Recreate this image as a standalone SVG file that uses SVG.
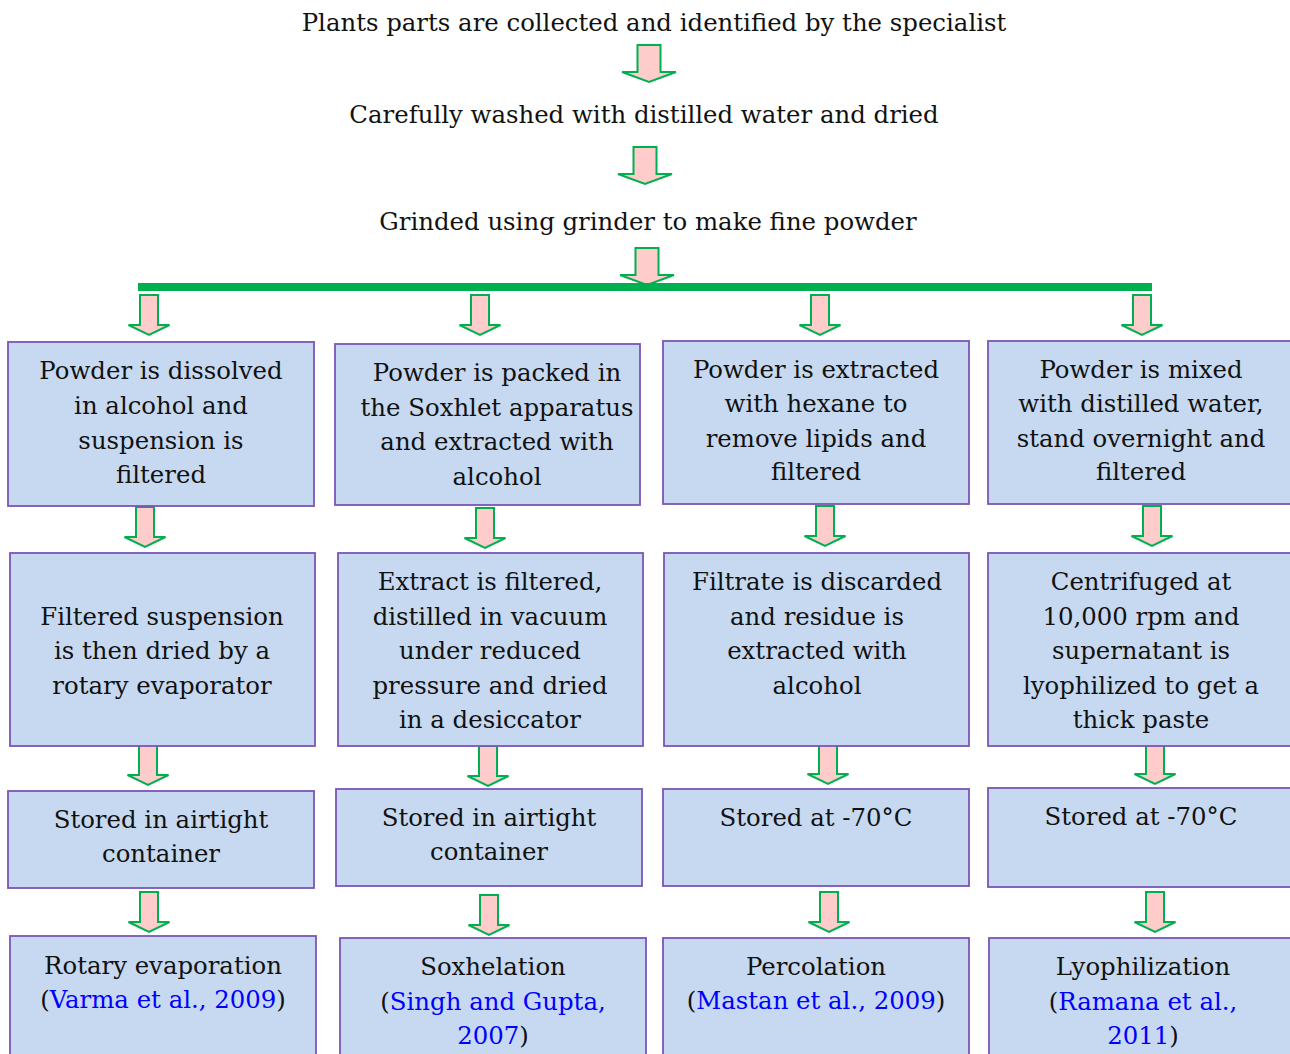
<svg xmlns="http://www.w3.org/2000/svg" width="1290" height="1054" viewBox="0 0 1290 1054">
<style>
text{font-family:"DejaVu Serif","Liberation Serif",serif;font-size:24.4px;fill:#111;text-anchor:middle}
.box{fill:#C6D9F1;stroke:#7B55B5;stroke-width:1.8}
.arr{fill:#FFCCCC;stroke:#00B050;stroke-width:2;stroke-linejoin:miter}
.cite{fill:#0000FF}
</style>
<defs>
<path id="bigArrow" class="arr" d="M-11.5,0 H11.5 V27 H27 L0,37 L-27,27 H-11.5 Z"/>
<path id="arrow" class="arr" d="M-9,0 H9 V30 H20.5 L0,40 L-20.5,30 H-9 Z"/>
</defs>
<g id="connectors">
<use href="#bigArrow" x="649" y="45"/>
<use href="#bigArrow" x="645" y="147"/>
<use href="#bigArrow" x="647" y="248"/>
<rect x="138" y="283" width="1014" height="8" fill="#00B050"/>
<use href="#arrow" x="149" y="295"/>
<use href="#arrow" x="480" y="295"/>
<use href="#arrow" x="820" y="295"/>
<use href="#arrow" x="1142" y="295"/>
<use href="#arrow" x="145" y="507"/>
<use href="#arrow" x="485" y="508"/>
<use href="#arrow" x="825" y="506"/>
<use href="#arrow" x="1152" y="506"/>
<use href="#arrow" x="148" y="745"/>
<use href="#arrow" x="488" y="746"/>
<use href="#arrow" x="828" y="744"/>
<use href="#arrow" x="1155" y="744"/>
<use href="#arrow" x="149" y="892"/>
<use href="#arrow" x="489" y="895"/>
<use href="#arrow" x="829" y="892"/>
<use href="#arrow" x="1155" y="892"/>
</g>
<g id="step1"><text x="654" y="31">Plants parts are collected and identified by the specialist</text></g>
<g id="step2"><text x="644" y="123">Carefully washed with distilled water and dried</text></g>
<g id="step3"><text x="648" y="230">Grinded using grinder to make fine powder</text></g>

<g id="b1"><rect class="box" x="8" y="342" width="306" height="164"/>
<text x="161" y="379">Powder is dissolved</text><text x="161" y="414">in alcohol and</text><text x="161" y="449">suspension is</text><text x="161" y="483">filtered</text></g>
<g id="b2"><rect class="box" x="335" y="344" width="305" height="161"/>
<text x="497" y="381">Powder is packed in</text><text x="497" y="416">the Soxhlet apparatus</text><text x="497" y="450">and extracted with</text><text x="497" y="485">alcohol</text></g>
<g id="b3"><rect class="box" x="663" y="341" width="306" height="163"/>
<text x="816" y="378">Powder is extracted</text><text x="816" y="412">with hexane to</text><text x="816" y="447">remove lipids and</text><text x="816" y="480">filtered</text></g>
<g id="b4"><rect class="box" x="988" y="341" width="305" height="163"/>
<text x="1141" y="378">Powder is mixed</text><text x="1141" y="412">with distilled water,</text><text x="1141" y="447">stand overnight and</text><text x="1141" y="480">filtered</text></g>

<g id="b5"><rect class="box" x="10" y="553" width="305" height="193"/>
<text x="162" y="625">Filtered suspension</text><text x="162" y="659">is then dried by a</text><text x="162" y="694">rotary evaporator</text></g>
<g id="b6"><rect class="box" x="338" y="553" width="305" height="193"/>
<text x="490" y="590">Extract is filtered,</text><text x="490" y="625">distilled in vacuum</text><text x="490" y="659">under reduced</text><text x="490" y="694">pressure and dried</text><text x="490" y="728">in a desiccator</text></g>
<g id="b7"><rect class="box" x="664" y="553" width="305" height="193"/>
<text x="817" y="590">Filtrate is discarded</text><text x="817" y="625">and residue is</text><text x="817" y="659">extracted with</text><text x="817" y="694">alcohol</text></g>
<g id="b8"><rect class="box" x="988" y="553" width="305" height="193"/>
<text x="1141" y="590">Centrifuged at</text><text x="1141" y="625">10,000 rpm and</text><text x="1141" y="659">supernatant is</text><text x="1141" y="694">lyophilized to get a</text><text x="1141" y="728">thick paste</text></g>

<g id="b9"><rect class="box" x="8" y="791" width="306" height="97"/>
<text x="161" y="828">Stored in airtight</text><text x="161" y="862">container</text></g>
<g id="b10"><rect class="box" x="336" y="789" width="306" height="97"/>
<text x="489" y="826">Stored in airtight</text><text x="489" y="860">container</text></g>
<g id="b11"><rect class="box" x="663" y="789" width="306" height="97"/>
<text x="816" y="826">Stored at -70°C</text></g>
<g id="b12"><rect class="box" x="988" y="788" width="305" height="99"/>
<text x="1141" y="825">Stored at -70°C</text></g>

<g id="b13"><rect class="box" x="10" y="936" width="306" height="130"/>
<text x="163" y="974">Rotary evaporation</text><text x="163" y="1008">(<tspan class="cite">Varma et al., 2009</tspan>)</text></g>
<g id="b14"><rect class="box" x="340" y="938" width="306" height="130"/>
<text x="493" y="975">Soxhelation</text><text x="493" y="1010">(<tspan class="cite">Singh and Gupta,</tspan></text><text x="493" y="1044"><tspan class="cite">2007</tspan>)</text></g>
<g id="b15"><rect class="box" x="663" y="938" width="306" height="130"/>
<text x="816" y="975">Percolation</text><text x="816" y="1009">(<tspan class="cite">Mastan et al., 2009</tspan>)</text></g>
<g id="b16"><rect class="box" x="989" y="938" width="304" height="130"/>
<text x="1143" y="975">Lyophilization</text><text x="1143" y="1010">(<tspan class="cite">Ramana et al.,</tspan></text><text x="1143" y="1044"><tspan class="cite">2011</tspan>)</text></g>
</svg>
